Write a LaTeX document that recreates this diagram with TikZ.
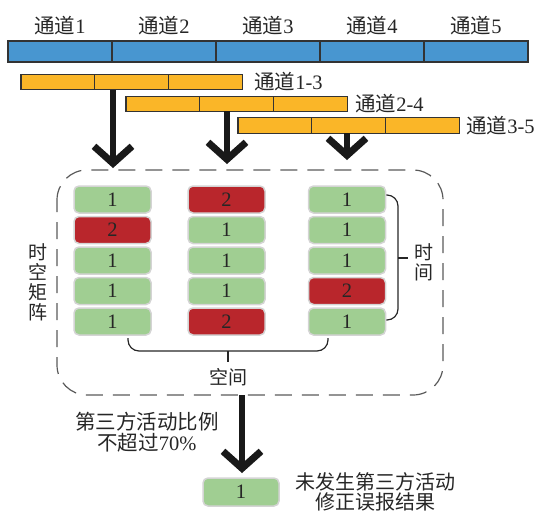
\documentclass[tikz,border=0pt]{standalone}
\usepackage{fontspec}
\setmainfont{Liberation Serif}
\newfontfamily\cjk{Noto Sans CJK SC}
\usetikzlibrary{arrows.meta}
\definecolor{barblue}{RGB}{72,150,208}
\definecolor{barorange}{RGB}{250,182,40}
\definecolor{cellgreen}{RGB}{160,206,146}
\definecolor{cellred}{RGB}{185,38,44}
\definecolor{cellborder}{RGB}{212,212,212}
\definecolor{dashgray}{RGB}{90,90,90}
\begin{document}
\begin{tikzpicture}[x=1pt,y=-1pt,
  font=\fontsize{20.5}{21}\selectfont,
  bluecell/.style={draw=black!80,line width=1.2pt,fill=barblue,minimum width=104pt,minimum height=21pt,inner sep=0pt,outer sep=0pt},
  orangecell/.style={draw=black!80,line width=1.1pt,fill=barorange,minimum width=73.7pt,minimum height=15.5pt,inner sep=0pt,outer sep=0pt},
  cell/.style={draw=cellborder,line width=1.5pt,rounded corners=5pt,minimum width=77pt,minimum height=27pt,inner sep=0pt,text=black!85},
  gcell/.style={cell,fill=cellgreen},
  rcell/.style={cell,fill=cellred},
  bigarrow/.style={line width=6pt,black!90,-{Straight Barb[length=17pt,width=38pt,line width=7pt]}},
  bracketline/.style={line width=1.2pt,black!85,rounded corners=11pt},
  lbl/.style={inner sep=0pt,text=black!85}
]
\useasboundingbox (0,0) rectangle (538,512);

% top channels
\foreach \i/\x in {1/60,2/164,3/268,4/372,5/476}{
  \node[bluecell] (ch\i) at (\x,51.5) {};
  \node[lbl] (chl\i) at (\x,26) {{\cjk 通道}\i};
}

% orange windows
\foreach \j/\x/\y in {1/21/82,2/126/104,3/238/125.5}{
  \node[orangecell,anchor=west] (w\j a) at (\x,\y) {};
  \node[orangecell,anchor=west] (w\j b) at (w\j a.east) {};
  \node[orangecell,anchor=west] (w\j c) at (w\j b.east) {};
}
\node[lbl,anchor=west] (wl1) at ([xshift=12pt]w1c.east) {{\cjk 通道}1-3};
\node[lbl,anchor=west] (wl2) at ([xshift=8pt]w2c.east) {{\cjk 通道}2-4};
\node[lbl,anchor=west] (wl3) at ([xshift=7pt]w3c.east) {{\cjk 通道}3-5};

% arrows down
\coordinate (a1s) at (113,90);  \coordinate (a1e) at (113,168);
\coordinate (a2s) at (227,111); \coordinate (a2e) at (227,164);
\coordinate (a3s) at (347,133); \coordinate (a3e) at (347,160);
\draw[bigarrow] (a1s) -- (a1e);
\draw[bigarrow] (a2s) -- (a2e);
\draw[bigarrow] (a3s) -- (a3e);

% dashed container
\draw[dashgray,line width=1.2pt,dash pattern=on 17pt off 10pt,dash phase=5pt,rounded corners=30pt]
  (57,170) rectangle (443,395);

% matrix cells: column 1
\node[gcell] (c11) at (112.5,199.5) {1};
\node[rcell] (c12) at (112.5,230)   {2};
\node[gcell] (c13) at (112.5,260.5) {1};
\node[gcell] (c14) at (112.5,291)   {1};
\node[gcell] (c15) at (112.5,321.5) {1};
% column 2
\node[rcell] (c21) at (226.5,199.5) {2};
\node[gcell] (c22) at (226.5,230)   {1};
\node[gcell] (c23) at (226.5,260.5) {1};
\node[gcell] (c24) at (226.5,291)   {1};
\node[rcell] (c25) at (226.5,321.5) {2};
% column 3
\node[gcell] (c31) at (347,199.5) {1};
\node[gcell] (c32) at (347,230)   {1};
\node[gcell] (c33) at (347,260.5) {1};
\node[rcell] (c34) at (347,291)   {2};
\node[gcell] (c35) at (347,321.5) {1};

% time bracket
\draw[bracketline] (c31.east |- 0,195) -- (398,195) -- (398,320) -- (c35.east |- 0,320);
\coordinate (tb) at (398,258);
\draw[line width=1.2pt,black!85] (tb) -- ++(10,0);
\node[lbl,align=center,font=\cjk\fontsize{19}{20}\selectfont] (timelbl) at (424,262) {时\\间};

% space bracket
\draw[bracketline] (128,338) -- (128,351) -- (328,351) -- (328,338);
\coordinate (sb) at (228,351);
\draw[line width=1.2pt,black!85] (sb) -- ++(0,11);
\node[lbl,font=\cjk\fontsize{19}{20}\selectfont] (spacelbl) at (228,377) {空间};

% left label
\node[lbl,align=center,font=\cjk\fontsize{19}{20}\selectfont] (stlbl) at (38,282) {时\\空\\矩\\阵};

% bottom arrow
\coordinate (b1s) at (242,395); \coordinate (b1e) at (242,473);
\draw[bigarrow] (b1s) -- (b1e);
\node[lbl,align=center] (cond) at (147,432) {{\cjk 第三方活动比例}\\{\cjk 不超过}70\%};

% result cell
\node[gcell,minimum width=76pt,minimum height=28pt] (res) at (241,492) {1};
\node[lbl,align=center,font=\cjk\fontsize{20}{18}\selectfont] (reslbl) at (375,492) {未发生第三方活动\\修正误报结果};
\end{tikzpicture}
\end{document}
